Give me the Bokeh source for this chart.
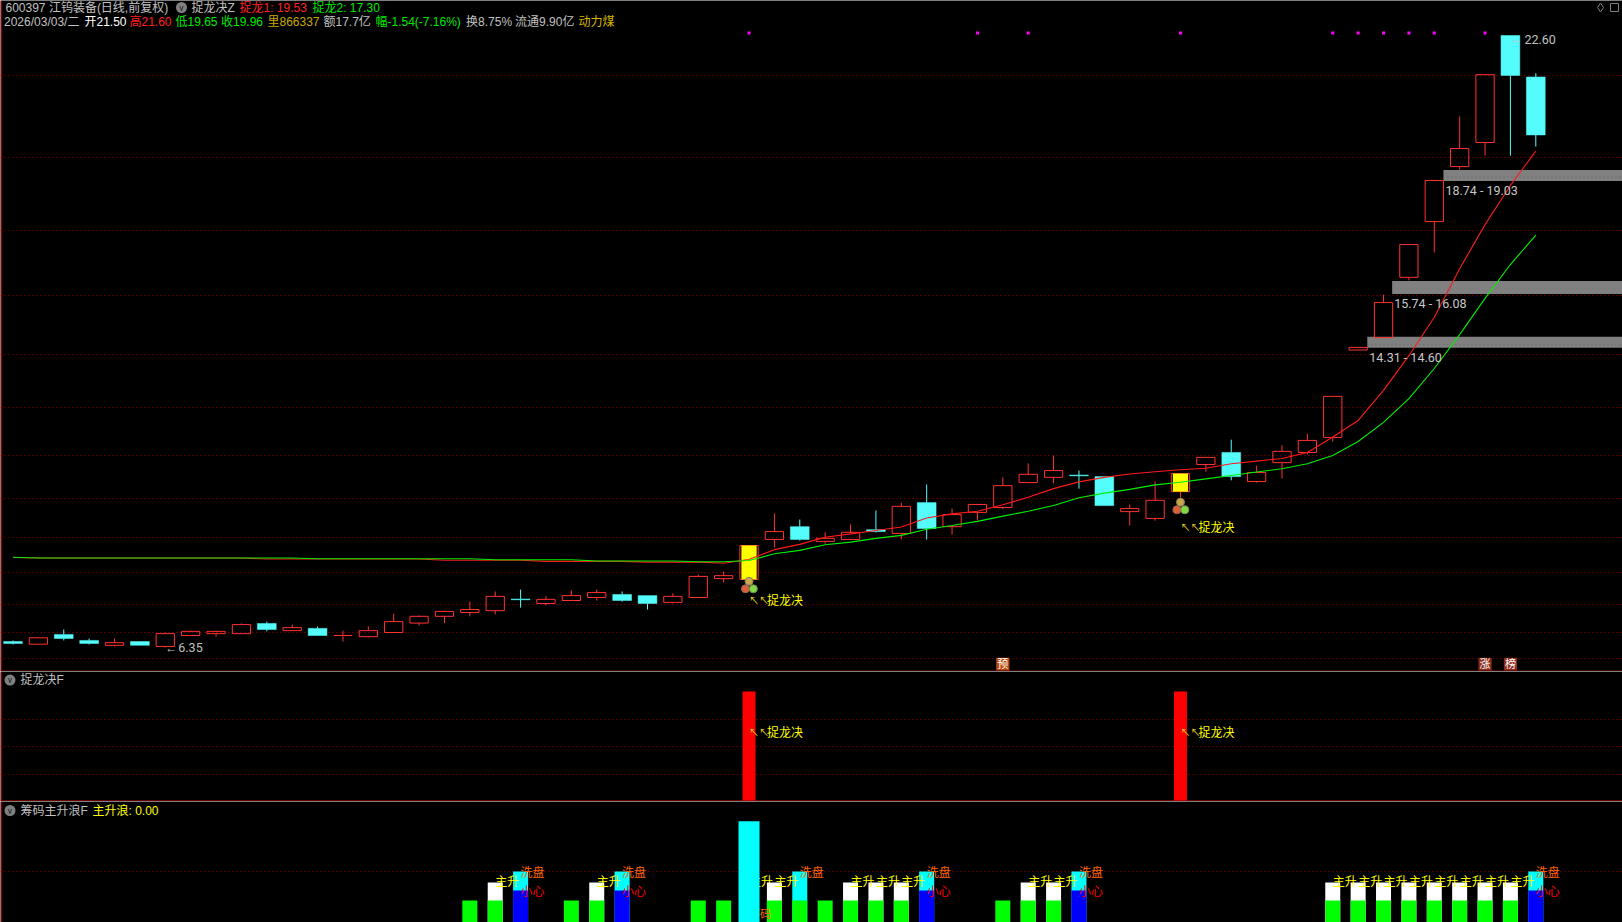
from bokeh.plotting import figure
from bokeh.layouts import column
from bokeh.models import Range1d, Grid, FixedTicker, Span
from bokeh.core.properties import value
from bokeh.embed import file_html
from bokeh.resources import INLINE

# ---------- data ----------
OPEN = [6.51,6.44,6.70,6.54,6.41,6.51,6.38,6.67,6.72,6.72,6.99,6.80,6.86,6.67,6.64,6.75,7.00,7.18,7.28,7.33,7.64,
        7.52,7.60,7.68,7.76,7.73,7.55,7.68,8.18,8.16,9.22,9.56,9.17,9.22,9.48,9.38,10.20,9.56,9.94,10.07,10.73,
        10.87,10.93,10.89,9.96,9.78,10.49,11.21,11.53,10.76,11.26,11.53,11.93,14.25,14.58,16.18,17.66,19.12,19.76,22.60,21.50]
HIGH = [6.54,6.61,6.83,6.59,6.59,6.51,6.75,6.80,6.80,6.99,7.04,6.96,6.91,6.80,6.91,7.25,7.20,7.33,7.57,7.84,7.89,
        7.71,7.87,7.89,7.84,7.73,7.79,8.29,8.37,9.06,9.91,9.75,9.41,9.62,9.99,10.20,10.68,10.04,10.15,10.87,11.24,
        11.45,11.05,10.89,10.15,10.76,10.97,11.40,11.87,11.18,11.72,12.03,13.02,14.32,15.72,17.05,18.75,20.45,21.56,22.60,21.60]
LOW = [6.43,6.44,6.54,6.43,6.38,6.41,6.35,6.67,6.64,6.72,6.78,6.80,6.67,6.51,6.62,6.75,6.94,7.00,7.18,7.23,7.41,
       7.47,7.60,7.60,7.57,7.36,7.52,7.68,8.08,8.16,9.01,9.19,9.11,9.22,9.41,9.22,9.22,9.35,9.72,10.02,10.73,
       10.71,10.57,10.12,9.59,9.72,10.26,11.02,10.79,10.73,10.84,11.48,11.82,14.25,14.58,16.10,16.84,19.04,19.41,19.41,19.65]
CLOSE = [6.46,6.61,6.59,6.46,6.48,6.41,6.72,6.78,6.78,6.96,6.83,6.88,6.67,6.67,6.80,7.04,7.18,7.31,7.36,7.71,7.62,
         7.63,7.73,7.81,7.60,7.52,7.71,8.24,8.26,9.06,9.43,9.22,9.25,9.41,9.43,10.10,9.51,9.88,10.15,10.65,10.95,
         11.05,10.91,10.12,10.04,10.26,10.97,11.40,10.89,11.00,11.56,11.85,13.02,14.32,15.51,17.05,18.75,19.60,21.56,21.54,19.96]
MA_RED = [8.74]+[8.73]*9+[8.70]*7+[8.67]*4+[8.64]*4+[8.62]*3+[8.59,8.69,8.95,9.09,9.28,9.37,9.46,9.55,9.79,9.90,9.97,10.14,10.34,
          10.57,10.75,10.87,10.96,11.02,11.07,11.11,11.23,11.30,11.37,11.53,11.94,12.38,13.18,14.10,15.12,16.41,17.58,18.62,19.53]
MA_GREEN = [8.75]+[8.73]*11+[8.71]*7+[8.68]*4+[8.65]*4+[8.63]*2+[8.66,8.84,8.93,9.08,9.15,9.25,9.33,9.49,9.59,9.70,9.84,9.97,
            10.12,10.33,10.45,10.55,10.67,10.74,10.83,10.92,11.01,11.10,11.23,11.45,11.82,12.33,12.96,13.76,14.66,15.62,16.52,17.30]
GRID_PRICES = [21.53,19.35,17.42,15.69,14.12,12.72,11.44,10.30,9.27,8.34,7.49,6.74,6.07]
BAND_LOW = [14.31,15.74,18.74]
BAND_HIGH = [14.60,16.08,19.03]
BAND_START = [53.36,54.34,56.36]
BAND_TEXT = ["14.31 - 14.60","15.74 - 16.08","18.74 - 19.03"]
BAND_DOTS = [14.40,18.84]
SIGNAL_IDX = [29,46]
MAGENTA_IDX = [29,38,40,46,52,53,54,55,56,58]
MAGENTA_LEVEL = 22.67
BADGE_IDX = [39,58,59]
BADGE_TEXT = ["预","涨","榜"]
BADGE_COLOR = ["#b84a10","#8c2a1c","#8c2a1c"]
BADGE_LOW, BADGE_HIGH = 5.74, 6.08

F_SIGNAL = [1.0,1.0]
F_GRID = [0.25,0.5,0.75]
F_TEXT_LEVEL = 0.636

GREEN_IDX = [18,19,22,23,27,28,30,31,32,33,34,35,39,40,41,52,53,54,55,56,57,58,59]
GREEN_VAL = 1.0
WHITE_IDX = [19,23,30,33,34,35,40,41,52,53,54,55,56,57,58,59]
WHITE_VAL = 1.82
CYAN_IDX = [20,24,31,36,42,60]
CYAN_VAL = 2.32
BLUE_IDX = [20,24,36,42,60]
BLUE_VAL = 1.45
BIG_IDX = [29]
BIG_VAL = 4.6
ZS_IDX = [19,23,29,30,33,34,35,40,41,52,53,54,55,56,57,58,59]
B_GRID = [2.3]

# ---------- scales of the reference picture ----------
SP = 25.38
X0 = 12.5
def xd(px): return (px - X0) / SP
def yd(py): return 23.53 - 0.02655 * py
XR = (xd(0), xd(1622))

CJK = "Noto Sans CJK SC"
MIX = "Liberation Sans, Noto Sans CJK SC"
NUM = "Roboto"
RED, CY = "#ff3232", "#54fcfc"
GRIDC = "#a00000"

def mk(h, yr):
    p = figure(width=1622, height=h, x_range=Range1d(*XR), y_range=Range1d(*yr),
               x_axis_type=None, y_axis_type=None, toolbar_location=None, output_backend="svg",
               min_border=0, outline_line_color=None, background_fill_color="#000000", border_fill_color="#000000")
    return p

def hgrid(p, ticks):
    p.add_layout(Grid(dimension=1, ticker=FixedTicker(ticks=ticks), grid_line_color=GRIDC,
                      grid_line_dash="1 3", grid_line_width=1))

def txt(p, x, y, s, color, size="12px", font=CJK, align="left", xo=0, yo=0):
    p.text(x=[x], y=[y], text=[s], text_color=color, text_font=value(font), text_font_size=value(size),
           text_align=align, text_baseline="middle", x_offset=xo, y_offset=yo)

# ---------- main panel ----------
m = mk(671, (yd(671), yd(0)))
hgrid(m, GRID_PRICES)
m.add_layout(Span(location=xd(1.2), dimension="height", line_color="#a00000", line_width=1))

m.quad(left=BAND_START, right=[XR[1]]*3, bottom=BAND_LOW, top=BAND_HIGH, fill_color="#808080", line_color=None)
m.segment(x0=[BAND_START[0], BAND_START[2]], x1=[XR[1]]*2, y0=BAND_DOTS, y1=BAND_DOTS, line_color="#606060", line_dash="1 3")

n = len(OPEN)
idx = list(range(n))
up = [i for i in idx if CLOSE[i] >= OPEN[i]]
dn = [i for i in idx if CLOSE[i] < OPEN[i]]

# wicks, not passing through the bodies
for ids, col in ((up, RED), (dn, CY)):
    m.segment(x0=ids, x1=ids, y0=[HIGH[i] for i in ids], y1=[max(OPEN[i], CLOSE[i]) for i in ids], line_color=col, line_width=1)
    m.segment(x0=ids, x1=ids, y0=[LOW[i] for i in ids], y1=[min(OPEN[i], CLOSE[i]) for i in ids], line_color=col, line_width=1)

m.vbar(x=up, width=0.72, bottom=[OPEN[i] for i in up], top=[CLOSE[i] for i in up],
       fill_color=None, line_color=RED, line_width=1)
m.vbar(x=dn, width=0.74, bottom=[CLOSE[i] for i in dn], top=[OPEN[i] for i in dn],
       fill_color=CY, line_color=CY, line_width=0.5)
m.vbar(x=SIGNAL_IDX, width=0.6, bottom=[OPEN[i] for i in SIGNAL_IDX], top=[CLOSE[i] for i in SIGNAL_IDX],
       fill_color="#ffff00", line_color=None)

m.line(idx, MA_RED, line_color="#ff1a1a", line_width=1.1)
m.line(idx, MA_GREEN, line_color="#00f000", line_width=1.1)

# three balls under the signal candles
m.scatter(x=SIGNAL_IDX, y=[LOW[i]-0.05 for i in SIGNAL_IDX], size=8, marker="circle", fill_color="#c9a84a", line_color="#8a8060")
m.scatter(x=[i-0.14 for i in SIGNAL_IDX], y=[LOW[i]-0.25 for i in SIGNAL_IDX], size=8, marker="circle", fill_color="#d8603a", line_color="#a06050")
m.scatter(x=[i+0.17 for i in SIGNAL_IDX], y=[LOW[i]-0.25 for i in SIGNAL_IDX], size=8, marker="circle", fill_color="#84d844", line_color="#709050")
for i in SIGNAL_IDX:
    txt(m, i, LOW[i]-0.53 if i == 29 else LOW[i]-0.70, "↖↖", "#e8d020", "10px")
    txt(m, i, LOW[i]-0.53 if i == 29 else LOW[i]-0.70, "捉龙决", "#ffff00", "12px", xo=18)

m.scatter(x=MAGENTA_IDX, y=[MAGENTA_LEVEL]*len(MAGENTA_IDX), size=3, marker="square", fill_color="#ff00ff", line_color=None)

# high / low notes
lo = LOW.index(min(LOW)); hi = HIGH.index(max(HIGH))
txt(m, lo, LOW[lo], "←", "#c0c0c0", "12px", NUM)
txt(m, lo, LOW[lo], f"{LOW[lo]:.2f}", "#c0c0c0", "12.5px", NUM, xo=13)
txt(m, hi, HIGH[hi], "←", "#c0c0c0", "12px", NUM, yo=3)
txt(m, hi, HIGH[hi], f"{HIGH[hi]:.2f}", "#c0c0c0", "12.5px", NUM, xo=14, yo=4)

for s, l, t in zip(BAND_START, BAND_LOW, BAND_TEXT):
    txt(m, s+0.08, l, t, "#c8c8c8", "12.5px", NUM, yo=10)

m.quad(left=[i-0.26 for i in BADGE_IDX], right=[i+0.26 for i in BADGE_IDX], bottom=[BADGE_LOW]*3, top=[BADGE_HIGH]*3,
       fill_color=BADGE_COLOR, line_color=None)
for i, s in zip(BADGE_IDX, BADGE_TEXT):
    txt(m, i, (BADGE_LOW+BADGE_HIGH)/2, s, "#ffffff", "11px", align="center", yo=-1)

# header rows
Y1, Y2 = yd(7), yd(21)
for x, s, c in [(5, "600397 江钨装备(日线,前复权)", "#c0c0c0"), (191, "捉龙决Z", "#c0c0c0"),
                (239, "捉龙1: 19.53", "#ff2020"), (312, "捉龙2: 17.30", "#00e800")]:
    txt(m, xd(x), Y1, s, c, "12px", MIX)
for x, s, c in [(3.5, "2026/03/03/二", "#c0c0c0"), (84, "开21.50", "#ffffff"), (129, "高21.60", "#ff2020"),
                (175, "低19.65", "#00e800"), (220.5, "收19.96", "#00e800"), (267, "里866337", "#c8a800"),
                (323, "额17.7亿", "#c0c0c0"), (375, "幅-1.54(-7.16%)", "#00e800"), (465.6, "换8.75%", "#c0c0c0"),
                (514.6, "流通9.90亿", "#c0c0c0"), (578, "动力煤", "#d8b400")]:
    txt(m, xd(x), Y2, s, c, "12px", MIX)
m.scatter(x=[xd(181)], y=[Y1], size=11, marker="circle", fill_color="#808080", line_color=None)
txt(m, xd(181), Y1, "v", "#202020", "9px", NUM, align="center")
m.scatter(x=[xd(1600)], y=[yd(7)], size=9, marker="diamond", fill_color=None, line_color="#808080")
m.scatter(x=[xd(1614)], y=[yd(7)], size=8, marker="square", fill_color=None, line_color="#808080")
m.add_layout(Span(location=yd(670.6), dimension="width", line_color="#a00000", line_width=1))

# ---------- signal panel ----------
PXF = 110.0
f = mk(130, (0, 130/PXF))
hgrid(f, F_GRID)
f.add_layout(Span(location=xd(1.2), dimension="height", line_color="#a00000", line_width=1))
f.vbar(x=SIGNAL_IDX, width=13/SP, bottom=0, top=F_SIGNAL, fill_color="#ff0000", line_color=None)
for i in SIGNAL_IDX:
    txt(f, i, F_TEXT_LEVEL, "↖↖", "#e8d020", "10px")
    txt(f, i, F_TEXT_LEVEL, "捉龙决", "#ffff00", "12px", xo=18)
f.scatter(x=[xd(9.5)], y=[(801-679.6)/PXF], size=11, marker="circle", fill_color="#808080", line_color=None)
txt(f, xd(9.5), (801-679.6)/PXF, "v", "#202020", "9px", NUM, align="center")
txt(f, xd(20), (801-679.6)/PXF, "捉龙决F", "#c0c0c0", "12px", MIX)
f.add_layout(Span(location=0.006, dimension="width", line_color="#a00000", line_width=1))

# ---------- chip panel ----------
PXB = 22.0
b = mk(121, (0, 121/PXB))
hgrid(b, B_GRID)
b.add_layout(Span(location=xd(1.2), dimension="height", line_color="#a00000", line_width=1))
W = 15/SP
txt(b, 29, 1.91, "主升", "#ffff00")     # hidden in part by the tall bar
b.vbar(x=WHITE_IDX, width=W, bottom=0, top=WHITE_VAL, fill_color="#ffffff", line_color=None)
b.vbar(x=CYAN_IDX, width=W, bottom=0, top=CYAN_VAL, fill_color="#00ffff", line_color=None)
b.vbar(x=GREEN_IDX, width=W, bottom=0, top=GREEN_VAL, fill_color="#00ff00", line_color=None)
b.vbar(x=BLUE_IDX, width=W, bottom=0, top=BLUE_VAL, fill_color="#0000ff", line_color=None)
txt(b, 29, 0.42, "筹码", "#ff6600", "11px")   # its left half lies under the tall bar
b.vbar(x=BIG_IDX, width=21/SP, bottom=0, top=BIG_VAL, fill_color="#00ffff", line_color=None)
for i in ZS_IDX:
    if i != 29:
        txt(b, i, 1.91, "主升", "#ffff00")
for i in CYAN_IDX:
    txt(b, i, 2.32, "洗盘", "#ff6600")
for i in BLUE_IDX:
    txt(b, i, 1.45, "小心", "#ff0000")
b.scatter(x=[xd(9.5)], y=[(922-810)/PXB], size=11, marker="circle", fill_color="#808080", line_color=None)
txt(b, xd(9.5), (922-810)/PXB, "v", "#202020", "9px", NUM, align="center")
txt(b, xd(20), (922-810)/PXB, "筹码主升浪F", "#c0c0c0", "12px", MIX)
txt(b, xd(92), (922-810)/PXB, "主升浪: 0.00", "#ffff00", "12px", MIX)

page = column(m, f, b, spacing=0)
open("out.html", "w").write(file_html(page, INLINE))
